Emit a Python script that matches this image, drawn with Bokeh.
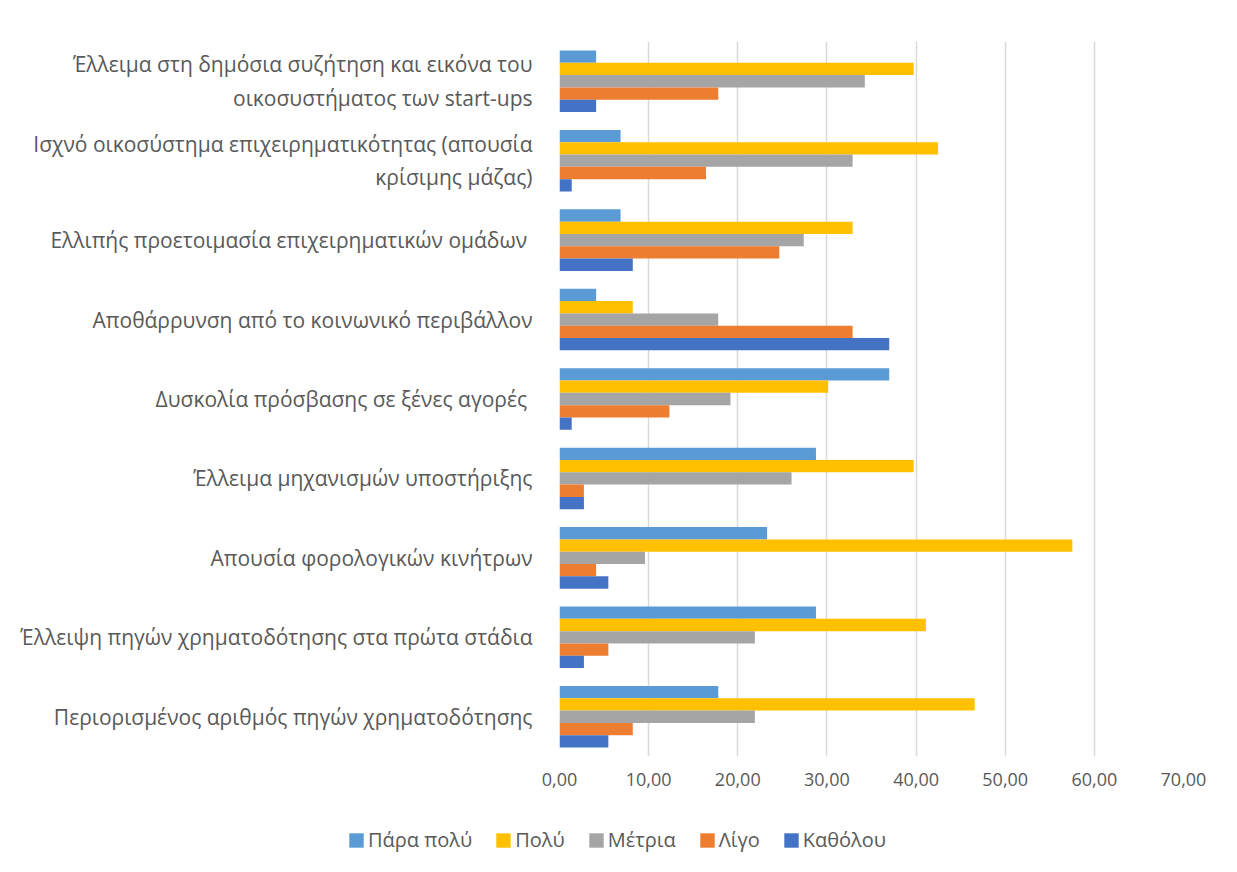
from bokeh.plotting import figure
from bokeh.layouts import column
from bokeh.models import ColumnDataSource, FactorRange, Range1d, FixedTicker, Legend, LegendItem
from bokeh.transform import dodge
from bokeh.embed import file_html
from bokeh.resources import INLINE

categories = [
    "Έλλειμα στη δημόσια συζήτηση και εικόνα του\nοικοσυστήματος των start-ups",
    "Ισχνό οικοσύστημα επιχειρηματικότητας (απουσία\nκρίσιμης μάζας)",
    "Ελλιπής προετοιμασία επιχειρηματικών ομάδων ",
    "Αποθάρρυνση από το κοινωνικό περιβάλλον",
    "Δυσκολία πρόσβασης σε ξένες αγορές ",
    "Έλλειμα μηχανισμών υποστήριξης",
    "Απουσία φορολογικών κινήτρων",
    "Έλλειψη πηγών χρηματοδότησης στα πρώτα στάδια",
    "Περιορισμένος αριθμός πηγών χρηματοδότησης",
]
series_names = ["Πάρα πολύ", "Πολύ", "Μέτρια", "Λίγο", "Καθόλου"]
para_poly = [4.11, 6.85, 6.85, 4.11, 36.99, 28.77, 23.29, 28.77, 17.81]
poly = [39.73, 42.47, 32.88, 8.22, 30.14, 39.73, 57.53, 41.10, 46.58]
metria = [34.25, 32.88, 27.40, 17.81, 19.18, 26.03, 9.59, 21.92, 21.92]
ligo = [17.81, 16.44, 24.66, 32.88, 12.33, 2.74, 4.11, 5.48, 8.22]
katholou = [4.11, 1.37, 8.22, 36.99, 1.37, 2.74, 5.48, 2.74, 5.48]
colors = ["#5B9BD5", "#FFC000", "#A5A5A5", "#ED7D31", "#4472C4"]
x_ticks = [0, 10, 20, 30, 40, 50, 60, 70]
x_tick_labels = ["0,00", "10,00", "20,00", "30,00", "40,00", "50,00", "60,00", "70,00"]

FONT = "Open Sans"
TXT = "#595959"

source = ColumnDataSource(dict(cat=categories, s0=para_poly, s1=poly, s2=metria, s3=ligo, s4=katholou))

p = figure(width=1237, height=800,
           y_range=FactorRange(*list(reversed(categories))),
           x_range=Range1d(0, 70),
           output_backend="svg", toolbar_location=None,
           min_border_left=559, min_border_right=54,
           min_border_top=41, min_border_bottom=44)

bh = 0.155
offsets = [2 * bh, bh, 0, -bh, -2 * bh]
for i, col in enumerate(colors):
    p.hbar(y=dodge("cat", offsets[i], range=p.y_range), left=0, right=f"s{i}",
           height=bh, source=source, fill_color=col, line_color=None)

p.outline_line_color = None
p.ygrid.grid_line_color = None
p.xgrid.grid_line_color = "#D9D9D9"
p.xgrid.grid_line_width = 1.5

p.xaxis.ticker = FixedTicker(ticks=x_ticks)
p.xaxis.major_label_overrides = {t: l for t, l in zip(x_ticks, x_tick_labels)}
p.xaxis.axis_line_color = None
p.xaxis.major_tick_line_color = None
p.xaxis.minor_tick_line_color = None
p.xaxis.major_label_standoff = 10
p.xaxis.major_label_text_font = FONT
p.xaxis.major_label_text_font_size = "18px"
p.xaxis.major_label_text_color = TXT

p.yaxis.axis_line_color = None
p.yaxis.major_tick_line_color = None
p.yaxis.minor_tick_line_color = None
p.yaxis.major_label_standoff = 21
p.yaxis.major_label_text_font = FONT
p.yaxis.major_label_text_font_size = "21px"
p.yaxis.major_label_text_color = TXT

# legend strip below the chart
lf = figure(width=1237, height=72, x_range=Range1d(0, 1), y_range=Range1d(0, 1),
            output_backend="svg", toolbar_location=None,
            min_border_left=0, min_border_right=0, min_border_top=0, min_border_bottom=0)
lf.frame_align = False
lf.axis.visible = False
lf.grid.visible = False
lf.outline_line_color = None
items = []
for name, col in zip(series_names, colors):
    r = lf.hbar(y=[-10], right=[1], height=0.1, fill_color=col, line_color=None)
    items.append(LegendItem(label=name, renderers=[r]))
legend = Legend(items=items, orientation="horizontal", location=(347, 19),
                glyph_width=18, glyph_height=18, label_standoff=3, spacing=22,
                padding=0, margin=0, border_line_color=None, background_fill_alpha=0,
                label_text_font=FONT, label_text_font_size="20px", label_text_color=TXT)
lf.add_layout(legend, "center")

layout = column(p, lf, spacing=0)
open("out.html", "w").write(file_html(layout, INLINE))
